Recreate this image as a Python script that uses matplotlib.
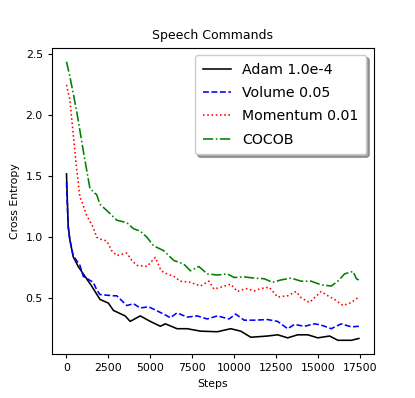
import matplotlib
matplotlib.use("Agg")
import matplotlib.pyplot as plt

adam_steps = [0, 100, 200, 400, 700, 1000, 1500, 2000, 2500, 2800, 3500, 3800, 4400, 5000, 5600, 5900,
              6600, 7200, 8000, 9000, 9800, 10400, 11000, 12000, 12600, 13200, 13800, 14400, 15000,
              15700, 16200, 17000, 17450]
adam_vals = [1.52, 1.10, 0.98, 0.84, 0.76, 0.70, 0.60, 0.49, 0.46, 0.40, 0.355, 0.31, 0.355, 0.31, 0.27, 0.29,
             0.25, 0.25, 0.23, 0.225, 0.25, 0.23, 0.18, 0.19, 0.20, 0.175, 0.20, 0.20, 0.175,
             0.19, 0.155, 0.155, 0.17]

vol_steps = [0, 100, 200, 400, 800, 1000, 1600, 1800, 2000, 2800, 3000, 3600, 4000, 4400, 4900, 5200,
             5800, 6200, 6600, 7200, 7800, 8400, 9000, 9700, 10100, 10600, 11200, 12000, 12600,
             13200, 13600, 14200, 14800, 15200, 15800, 16400, 17000, 17450]
vol_vals = [1.45, 1.08, 0.98, 0.85, 0.77, 0.68, 0.63, 0.57, 0.53, 0.52, 0.52, 0.44, 0.455, 0.42, 0.43, 0.41,
            0.37, 0.34, 0.38, 0.345, 0.355, 0.33, 0.355, 0.33, 0.37, 0.32, 0.32, 0.325, 0.31,
            0.25, 0.285, 0.27, 0.29, 0.28, 0.25, 0.29, 0.265, 0.27]

mom_steps = [0, 200, 400, 600, 800, 900, 1200, 1600, 1800, 2000, 2400, 2700, 3000, 3600, 3900, 4200,
             4800, 5300, 5600, 5800, 6400, 6800, 7400, 8000, 8500, 8800, 9200, 9800, 10200, 10700,
             11200, 11600, 12100, 12600, 13200, 13700, 14000, 14500, 15200, 15600, 16000, 16500,
             17000, 17450]
mom_vals = [2.25, 2.13, 1.85, 1.57, 1.33, 1.30, 1.18, 1.08, 1.00, 0.985, 0.97, 0.89, 0.85, 0.87, 0.81, 0.77,
            0.76, 0.835, 0.74, 0.71, 0.68, 0.64, 0.63, 0.60, 0.64, 0.575, 0.59, 0.615, 0.555, 0.58,
            0.56, 0.58, 0.59, 0.51, 0.52, 0.555, 0.505, 0.465, 0.555, 0.52, 0.49, 0.44,
            0.465, 0.51]

cocob_steps = [0, 200, 600, 1000, 1400, 1700, 1800, 2000, 2400, 3000, 3600, 4000, 4400, 4800, 5200,
               5800, 6400, 7000, 7400, 7900, 8400, 9000, 9600, 10000, 10600, 11200, 11800, 12300,
               12800, 13400, 14000, 14600, 15200, 15800, 16200, 16600, 17100, 17300, 17450]
cocob_vals = [2.44, 2.32, 2.04, 1.71, 1.40, 1.36, 1.35, 1.27, 1.22, 1.14, 1.12, 1.07, 1.05, 1.00, 0.93,
              0.89, 0.81, 0.78, 0.725, 0.76, 0.70, 0.69, 0.70, 0.67, 0.675, 0.665, 0.66, 0.63,
              0.65, 0.665, 0.64, 0.64, 0.61, 0.60, 0.64, 0.70, 0.72, 0.66, 0.65]

labels = ["Adam 1.0e-4", "Volume 0.05", "Momentum 0.01", "COCOB"]

plt.rcParams["font.family"] = "DejaVu Sans"

fig = plt.figure(figsize=(4.15, 3.98), dpi=100)
ax = fig.add_subplot(111)
ax.plot(adam_steps, adam_vals, color="black", linestyle="-", lw=1.15, label=labels[0])
ax.plot(vol_steps, vol_vals, color="blue", linestyle="--", lw=1.15, label=labels[1])
ax.plot(mom_steps, mom_vals, color="red", linestyle=":", lw=1.15, label=labels[2])
ax.plot(cocob_steps, cocob_vals, color="green", linestyle="-.", lw=1.15, label=labels[3])

ax.set_title("Speech Commands", fontsize=9)
ax.set_xlabel("Steps", fontsize=7.8)
ax.set_ylabel("Cross Entropy", fontsize=7.8)
ax.tick_params(labelsize=7.8, length=3)
ax.set_yticks([0.5, 1.0, 1.5, 2.0, 2.5])
ax.set_xticks([0, 2500, 5000, 7500, 10000, 12500, 15000, 17500])
ax.legend(loc="upper right", shadow=True, fontsize=10.2, handlelength=2.0,
          labelspacing=0.66, borderpad=0.55)

fig.savefig("out.png", dpi=100)
